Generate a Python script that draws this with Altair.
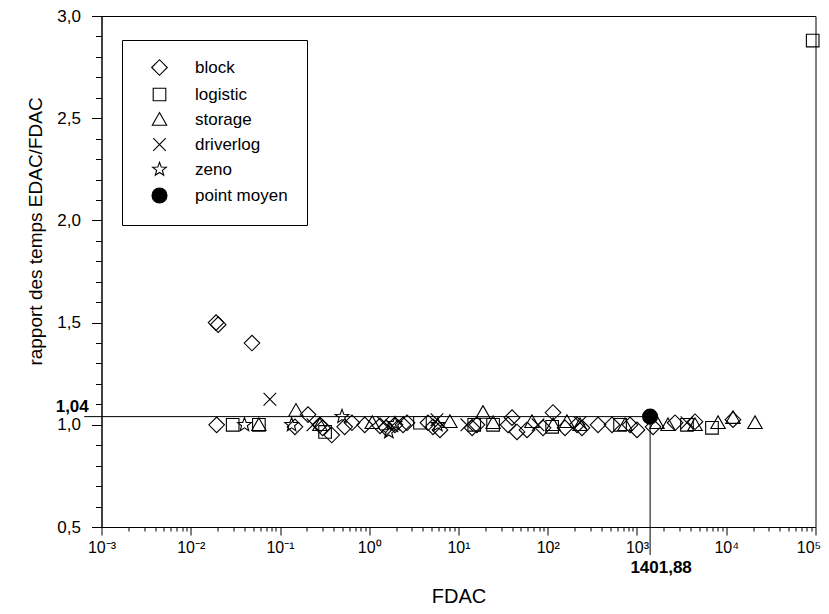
import math
import altair as alt
import pandas as pd

# ---------------- data ----------------
block_x = [0.0195, 0.0192, 0.0203, 0.0485, 0.147, 0.206, 0.28, 0.30, 0.38, 0.53, 0.64, 0.89,
           1.32, 1.54, 1.94, 2.39, 2.65, 4.55, 5.18, 6.2, 14.2, 16.1, 35.9, 39.8, 45.2, 58.6,
           88.5, 114.5, 156, 213, 242, 366, 525, 835, 1000, 1513, 2670, 4467, 11900]
block_y = [1.00, 1.50, 1.49, 1.40, 0.99, 1.05, 1.00, 0.985, 0.95, 0.99, 1.01, 1.00,
           0.995, 0.985, 1.00, 1.00, 1.01, 1.01, 0.99, 0.975, 0.985, 1.00, 1.00, 1.035, 0.965, 0.975,
           0.985, 1.06, 0.985, 1.00, 0.985, 1.00, 1.00, 1.00, 0.975, 0.99, 1.01, 1.015, 1.025]

logistic_x = [0.0295, 0.058, 0.32, 3.7, 15.0, 24.4, 112, 646, 3630, 6920, 93000]
logistic_y = [1.00, 1.00, 0.965, 1.01, 1.00, 1.00, 0.99, 1.00, 1.00, 0.985, 2.88]

storage_x = [0.058, 0.151, 0.28, 1.08, 8.0, 18.8, 24.4, 66.5, 115, 164, 230, 735, 1675,
             2227, 4470, 8090, 11900, 21000]
storage_y = [1.00, 1.07, 1.00, 1.01, 1.015, 1.06, 1.01, 1.015, 1.00, 1.015, 1.00, 1.00, 1.01,
             1.00, 1.00, 1.01, 1.035, 1.01]

driverlog_x = [0.077, 0.234, 1.43, 1.8, 5.74, 12.4, 77.8, 230, 3630]
driverlog_y = [1.125, 1.00, 1.01, 0.995, 1.025, 1.00, 1.00, 1.01, 1.01]

zeno_x = [0.04, 0.135, 0.495, 1.66, 1.94, 5.87]
zeno_y = [1.00, 1.00, 1.04, 0.965, 1.005, 1.00]

mean_x = [1401.88]
mean_y = [1.04]

series_names = ["block", "logistic", "storage", "driverlog", "zeno", "point moyen"]

y_major = [0.5, 1.0, 1.5, 2.0, 2.5, 3.0]
y_minor = [0.6, 0.7, 0.8, 0.9, 1.1, 1.2, 1.3, 1.4, 1.6, 1.7, 1.8, 1.9,
           2.1, 2.2, 2.3, 2.4, 2.6, 2.7, 2.8, 2.9]

# reference-line annotation values
mean_label_x = "1401,88"
mean_label_y = "1,04"

# ---------------- build tables ----------------
rows = []
for name, xs, ys in [("block", block_x, block_y), ("logistic", logistic_x, logistic_y),
                     ("storage", storage_x, storage_y), ("driverlog", driverlog_x, driverlog_y),
                     ("zeno", zeno_x, zeno_y), ("point moyen", mean_x, mean_y)]:
    for a, b in zip(xs, ys):
        rows.append({"x": a, "y": b, "serie": name})
df = pd.DataFrame(rows)

x_ticks = []
for e in range(-3, 5):
    for m in range(1, 10):
        x_ticks.append(m * 10.0 ** e)
x_ticks.append(1e5)

# shapes (unit paths)
diamond = "M-1.3,0L0,-1.3L1.3,0L0,1.3Z"
square = "M-1.05,-1.05L1.05,-1.05L1.05,1.05L-1.05,1.05Z"
triangle = "M0,-1.15L1.2,0.95L-1.2,0.95Z"
cross = "M-1.05,-1.05L1.05,1.05M-1.05,1.05L1.05,-1.05"
pts = []
for k in range(10):
    r = 1.2 if k % 2 == 0 else 0.5
    a = -math.pi / 2 + k * math.pi / 5
    pts.append(f"{r*math.cos(a):.3f},{r*math.sin(a):.3f}")
star = "M" + "L".join(pts) + "Z"
circle = "M1.25,0A1.25,1.25,0,1,1,-1.25,0A1.25,1.25,0,1,1,1.25,0Z"

FONT = "Liberation Sans"

xscale = alt.Scale(type="log", domain=[1e-3, 1e5], nice=False)
yscale = alt.Scale(domain=[0.5, 3.0], nice=False, zero=False)

major_x_test = "abs(log(datum.value)/LN10 - round(log(datum.value)/LN10)) < 0.001"
sup = "['\u207b\u00b3','\u207b\u00b2','\u207b\u00b9','\u2070','\u00b9','\u00b2','\u00b3','\u2074','\u2075']"
x_axis = alt.Axis(
    values=x_ticks, title="FDAC", grid=False,
    labelExpr=f"({major_x_test}) ? '10' + {sup}[round(log(datum.value)/LN10)+3] : ''",
    tickSize={"condition": {"test": major_x_test, "value": 8}, "value": 4},
    labelFontSize={"condition": {"test": major_x_test, "value": 16}, "value": 1},
    labelOffset={"condition": {"test": "datum.value > 50000", "value": -7}, "value": 0},
    labelFont=FONT, labelPadding=4, labelFlush=False, labelOverlap=False,
    titleFontSize=20, titleFont=FONT, titleFontWeight="normal", titleY=75,
    titleBaseline="alphabetic",
)
y_axis = alt.Axis(
    values=y_major, title="rapport des temps EDAC/FDAC", grid=False, orient="left",
    labelExpr="replace(format(datum.value, '.1f'), '.', ',')",
    tickSize=10, labelFontSize=17,
    labelFont=FONT, labelPadding=11, labelOverlap=False, labelFlush=False,
    titleFontSize=19, titleFont=FONT, titleFontWeight="normal",
    titleX=-60, titleY=215, titleAlign="center", titleBaseline="alphabetic", titleAngle=270,
)
y_minor_axis = alt.Axis(
    values=y_minor, title="", grid=False, orient="left", labels=False, domain=False,
    tickSize=6, offset=0,
)

legend = alt.Legend(
    title=None, orient="none", legendX=20.5, legendY=24,
    strokeColor="black", fillColor="white", padding=19,
    symbolOffset=10, labelOffset=27, rowPadding=7,
    labelFontSize=17, labelFont=FONT, labelColor="black",
    symbolSize=144, symbolStrokeColor="black", symbolStrokeWidth=1.1,
)

points = alt.Chart(df).mark_point(size=144, strokeWidth=1.1, opacity=1).encode(
    x=alt.X("x:Q", scale=xscale, axis=x_axis),
    y=alt.Y("y:Q", scale=yscale, axis=y_axis),
    shape=alt.Shape("serie:N", scale=alt.Scale(domain=series_names,
                    range=[diamond, square, triangle, cross, star, circle]), legend=legend),
    fill=alt.Fill("serie:N", scale=alt.Scale(domain=series_names,
                  range=["transparent"] * 5 + ["black"]), legend=legend),
    stroke=alt.Stroke("serie:N", scale=alt.Scale(domain=series_names,
                      range=["black"] * 6), legend=legend),
)

h_line = pd.DataFrame({"x": [0.00064], "x2": mean_x, "y": mean_y})
v_line = pd.DataFrame({"x": mean_x, "y": [0.363], "y2": mean_y})

hrule = alt.Chart(h_line).mark_rule(color="black", strokeWidth=1).encode(
    x=alt.X("x:Q", scale=xscale), x2="x2:Q",
    y=alt.Y("y:Q", scale=yscale, axis=y_minor_axis))
vrule = alt.Chart(v_line).mark_rule(color="black", strokeWidth=1).encode(
    x=alt.X("x:Q", scale=xscale),
    y=alt.Y("y:Q", scale=yscale, axis=y_minor_axis), y2="y2:Q")

lab_y = alt.Chart(pd.DataFrame({"x": [0.00072], "y": mean_y, "t": [mean_label_y]})).mark_text(
    font=FONT, fontSize=17, fontWeight="bold", align="right", baseline="bottom", dy=-1, color="black"
).encode(x=alt.X("x:Q", scale=xscale), y=alt.Y("y:Q", scale=yscale, axis=y_minor_axis), text="t:N")

lab_x = alt.Chart(pd.DataFrame({"x": mean_x, "y": [0.30], "t": [mean_label_x]})).mark_text(
    font=FONT, fontSize=17, fontWeight="bold", align="center", baseline="middle", dx=11, color="black"
).encode(x=alt.X("x:Q", scale=xscale), y=alt.Y("y:Q", scale=yscale, axis=y_minor_axis), text="t:N")

chart = alt.layer(points, hrule, vrule, lab_y, lab_x).resolve_axis(y="independent").properties(
    width=714, height=511,
    autosize=alt.AutoSizeParams(type="none"),
    padding={"left": 93.5, "top": 8, "right": 5.5, "bottom": 79},
).configure_view(stroke="black", strokeWidth=1).configure_axis(
    domainColor="black", tickColor="black", labelColor="black", titleColor="black",
    domainWidth=1, tickWidth=1,
)

chart.save("out.html", embed_options={"renderer": "svg", "actions": False})
